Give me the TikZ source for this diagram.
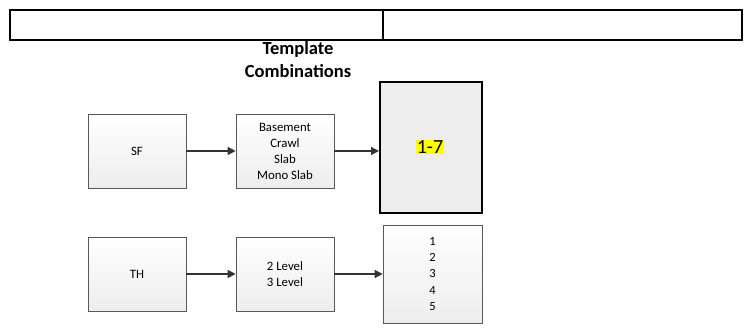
\documentclass[tikz,border=0pt]{standalone}
\usepackage{fontspec}
\setmainfont{Carlito}
\usetikzlibrary{arrows.meta,shadows}
\definecolor{boxgray}{HTML}{EDEDED}
\definecolor{hl}{HTML}{FFFF00}
\begin{document}
\begin{tikzpicture}[x=1pt,y=-1pt,
  flowbox/.style={draw=black!65,line width=0.7pt,top color=white,bottom color=boxgray,
    minimum width=98pt,minimum height=74pt,inner sep=0pt,align=center,
    font=\fontsize{12.8}{16}\selectfont,
    drop shadow={shadow xshift=1.2pt,shadow yshift=-1.2pt,fill=black!25,opacity=0.6}},
  link/.style={draw=black!80,line width=1.4pt,-{Triangle[length=8pt,width=8pt]}}]
  \useasboundingbox (0,0) rectangle (744,328);
  % header table
  \draw[line width=2pt] (10,10) rectangle (742,40);
  \draw[line width=2pt] (383,10) -- (383,40);
  \node[font=\bfseries\fontsize{18.5}{23}\selectfont,align=center] (title) at (298,60) {Template\\Combinations};
  % single family row
  \node[flowbox] (sf) at (137,151) {SF};
  \node[flowbox] (sfbase) at (285,151) {Basement\\Crawl\\Slab\\Mono Slab};
  \node[draw=black,line width=2pt,fill=boxgray,minimum width=102pt,minimum height=131pt,inner sep=0pt] (sfres) at (431,147.5) {};
  \node[fill=hl,inner sep=0.5pt,font=\fontsize{20}{22}\selectfont] (sfnum) at (430,147) {1-7};
  \draw[link] (sf) -- (sfbase);
  \draw[link] (sfbase.east) -- (sfbase.east -| sfres.west);
  % townhouse row
  \node[flowbox] (th) at (137,274) {TH};
  \node[flowbox] (thlev) at (285,274) {2 Level\\3 Level};
  \node[flowbox,minimum width=99pt,minimum height=98pt,font=\fontsize{12.5}{16.3}\selectfont] (thres) at (432.5,274) {1\\2\\3\\4\\5};
  \draw[link] (th) -- (thlev);
  \draw[link] (thlev) -- (thres);
\end{tikzpicture}
\end{document}
